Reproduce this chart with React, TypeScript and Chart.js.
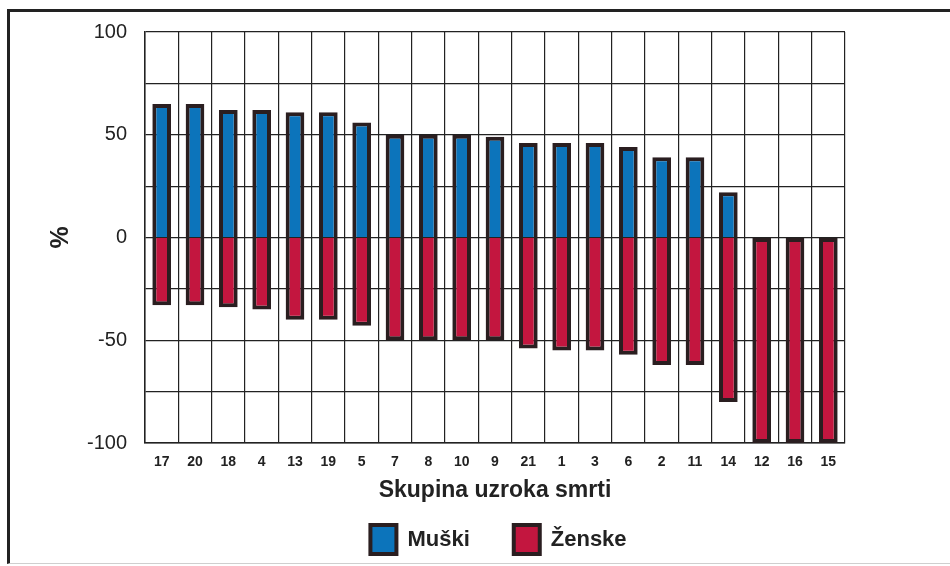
import React, { useEffect, useRef } from "react";
import { Chart, registerables } from "chart.js";

Chart.register(...registerables);

const categories = ["17", "20", "18", "4", "13", "19", "5", "7", "8", "10", "9", "21", "1", "3", "6", "2", "11", "14", "12", "16", "15"];
const muski = [65, 65, 62, 62, 61, 61, 56, 50, 50, 50, 49, 46, 46, 46, 44, 39, 39, 22, 0, 0, 0];
const zenske = [-33, -33, -34, -35, -40, -40, -43, -50, -50, -50, -50, -54, -55, -55, -57, -62, -62, -80, -100, -100, -100];
const yTicks = [-100, -50, 0, 50, 100];

const FONT = "'Liberation Sans', Arial, sans-serif";
const BLUE = "#0c74bb";
const RED = "#c3163f";
const EDGE = "#2a1e20";
const INK = "#222222";

const legendShift = {
  id: "legendShift",
  afterLayout(chart: any) {
    if (chart.legend) {
      chart.legend.left += 76;
      chart.legend.right += 76;
    }
  },
};

export default function App() {
  const ref = useRef<HTMLCanvasElement | null>(null);

  useEffect(() => {
    if (!ref.current) return;
    const chart = new Chart(ref.current, {
      type: "bar",
      data: {
        labels: categories,
        datasets: [
          {
            label: "Muški",
            data: muski,
            backgroundColor: BLUE,
            borderColor: EDGE,
            borderWidth: 4,
            barPercentage: 0.56,
            categoryPercentage: 1,
          },
          {
            label: "Ženske",
            data: zenske,
            backgroundColor: RED,
            borderColor: EDGE,
            borderWidth: 4,
            barPercentage: 0.56,
            categoryPercentage: 1,
            borderSkipped: ((ctx: any) => (muski[ctx.dataIndex] === 0 ? false : "start")) as any,
          },
        ],
      },
      plugins: [legendShift],
      options: {
        animation: false,
        responsive: false,
        maintainAspectRatio: false,
        layout: { padding: { left: 0, right: 105, top: 32, bottom: 2 } },
        plugins: {
          tooltip: { enabled: false },
          legend: {
            position: "bottom",
            labels: {
              boxWidth: 26,
              boxHeight: 29,
              padding: 44,
              color: INK,
              font: { family: FONT, size: 22, weight: "bold" },
            },
          },
        },
        scales: {
          x: {
            stacked: true,
            grid: { color: INK, lineWidth: 1.2, drawTicks: false, offset: true },
            border: { color: INK, width: 1.5 },
            ticks: {
              color: INK,
              padding: 11,
              maxRotation: 0,
              autoSkip: false,
              font: { family: FONT, size: 14, weight: "bold" },
            },
            title: {
              display: true,
              text: "Skupina uzroka smrti",
              color: INK,
              font: { family: FONT, size: 23, weight: "bold" },
              padding: { top: 0, bottom: -23 },
            },
            afterFit: (s: any) => {
              s.height = 38;
            },
          },
          y: {
            stacked: true,
            min: -100,
            max: 100,
            grid: { color: INK, lineWidth: 1.2, drawTicks: false },
            border: { color: INK, width: 1.5 },
            ticks: {
              stepSize: 25,
              color: INK,
              padding: 18,
              font: { family: FONT, size: 20 },
              callback: (v: any) => (yTicks.includes(Number(v)) ? String(v) : ""),
            },
            title: {
              display: true,
              text: "%",
              color: INK,
              font: { family: FONT, size: 25, weight: "bold" },
              padding: { top: 46, bottom: 0 },
            },
            afterFit: (s: any) => {
              s.width = 145;
            },
          },
        },
      },
    });
    return () => chart.destroy();
  }, []);

  return (
    <div style={{ position: "fixed", left: 0, top: 0, width: 950, height: 566, background: "#fff", overflow: "hidden" }}>
      <div
        style={{
          position: "absolute",
          left: 7,
          top: 9,
          width: 980,
          height: 551,
          borderLeft: "3px solid #222",
          borderTop: "3px solid #222",
          borderBottom: "1px solid #cfcfcf",
        }}
      />
      <canvas ref={ref} width={950} height={566} style={{ position: "absolute", left: 0, top: 0 }} />
    </div>
  );
}
